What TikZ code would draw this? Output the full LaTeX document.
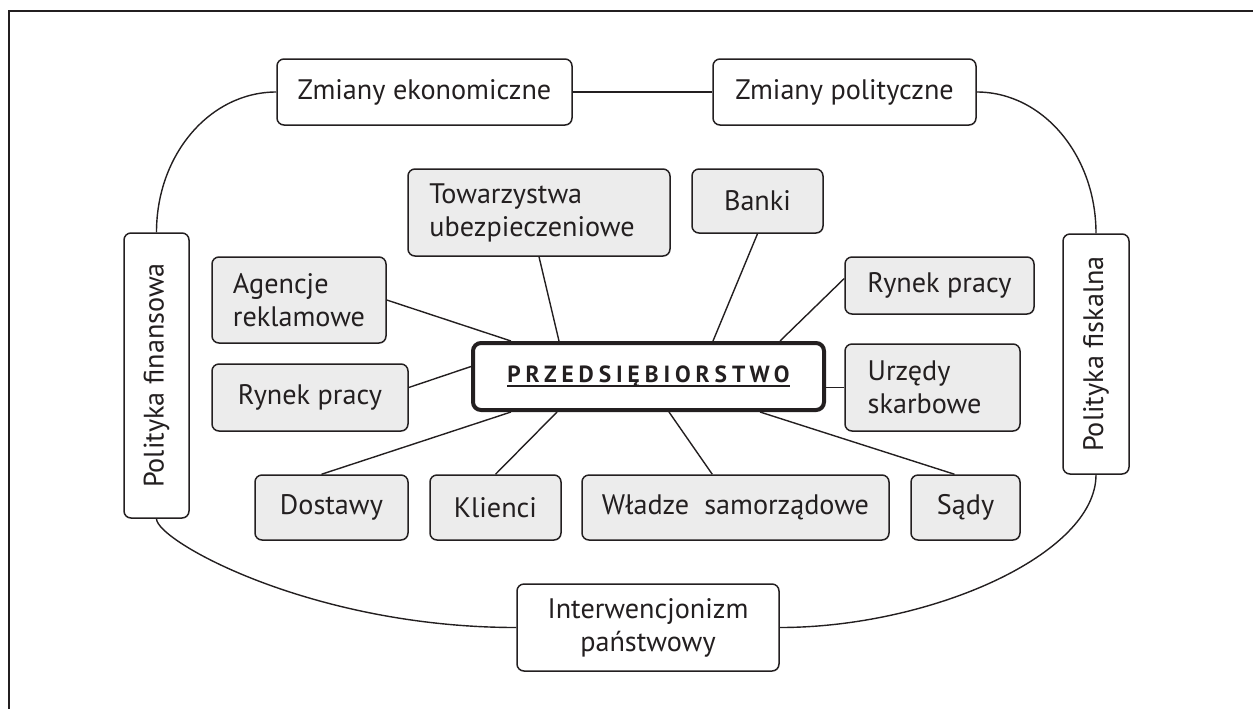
\documentclass[tikz,border=0pt]{standalone}
\usepackage{fontspec}
\setmainfont{PT Sans}
\newfontfamily\spacedfont[LetterSpace=21]{PT Sans}
\newcommand{\thickul}[1]{\setbox0\hbox{#1}\leavevmode\rlap{\rule[-2.6pt]{\wd0}{1.4pt}}\box0}
\usetikzlibrary{calc}
\definecolor{boxgrey}{RGB}{236,236,236}
\definecolor{ink}{RGB}{35,31,32}
\begin{document}
\begin{tikzpicture}[x=0.5pt,y=-0.5pt,
  box/.style={draw=ink, text=ink, line width=0.75pt, rounded corners=3.5pt, inner sep=0pt,
    font=\fontsize{14.1}{16.5}\selectfont, align=center, fill=white},
  grey/.style={box, fill=boxgrey, align=left},
  dims/.style 2 args={minimum width=#1*0.5pt, minimum height=#2*0.5pt},
  link/.style={draw=ink, line width=0.7pt},
  main/.style={box, line width=2pt, rounded corners=4pt}
]
\useasboundingbox (0,0) rectangle (1253,708);
\draw[ink, line width=0.6pt] (9,11) rectangle (1290,760);

% outer ring
\node[box, dims={295}{66}] (zek) at (424.5,92) {Zmiany ekonomiczne};
\node[box, dims={263}{66}] (zpol) at (844.5,92) {Zmiany polityczne};
\node[box, dims={65}{285}] (polfin) at (156.5,375.5) {\rotatebox{90}{Polityka finansowa}};
\node[box, dims={66}{240}] (polfis) at (1096,354) {\rotatebox{90}{Polityka fiskalna}};
\node[box, dims={262}{87}] (interw) at (648,627.5) {Interwencjonizm\\państwowy};

% centre
\node[main, dims={351}{67}] (przed) at (648.5,376.5)
  {\fontsize{11.7}{13}\bfseries\spacedfont\thickul{PRZEDSIĘBIORSTWO}};

% grey nodes
\node[grey, dims={262}{87}] (tow) at (539,212.5) {Towarzystwa\\ubezpieczeniowe\hspace*{7pt}};
\node[grey, dims={131}{64}] (banki) at (757.5,201) {Banki};
\node[grey, dims={174}{86}] (agen) at (299,300) {Agencje\\reklamowe};
\node[grey, dims={189}{57}] (rpR) at (939.5,285.5) {Rynek pracy};
\node[grey, dims={175}{87}] (urz) at (932.5,387.5) {Urzędy\\skarbowe\hspace*{8pt}};
\node[grey, dims={196}{67}] (rpL) at (310,397.5) {Rynek pracy};
\node[grey, dims={153}{65}] (dost) at (331.5,507.5) {Dostawy};
\node[grey, dims={131}{65}] (klie) at (495.5,507.5) {Klienci};
\node[grey, dims={307}{65}] (wladze) at (735.5,507.5) {Władze\ \ samorządowe};
\node[grey, dims={109}{65}] (sady) at (965.5,507.5) {Sądy};

% ring connectors
\draw[link] (zek.east) -- (zpol.west);
\draw[link] (zek.west) .. controls +(-66,0) and +(0,-78) .. (polfin.north);
\draw[link] (zpol.east) .. controls +(66,0) and +(0,-78) .. (polfis.north);
\draw[link] (polfin.south) .. controls +(0,22) and +(-205,0) .. (interw.west);
\draw[link] (polfis.south) .. controls +(0,80) and +(150,0) .. (interw.east);

% spokes
\draw[link] (agen.east) -- ($(przed.north west)+(40,0)$);
\draw[link] (tow.south) -- ($(przed.north west)+(88,0)$);
\draw[link] (banki.south) -- ($(przed.north west)+(242,0)$);
\draw[link] ($(rpR.west)+(0,-7)$) -- ($(przed.north west)+(309,0)$);
\draw[link] (urz.west) -- (przed.east |- urz.west);
\draw[link] ($(rpL.east)+(0,-10)$) -- ($(przed.west)+(0,-10)$);
\draw[link] ($(dost.north)+(-10,0)$) -- ($(przed.south west)+(40,0)$);
\draw[link] (klie.north) -- ($(przed.south west)+(86,0)$);
\draw[link] ($(wladze.north west)+(131,0)$) -- ($(przed.south west)+(198,0)$);
\draw[link] ($(sady.north)+(-11,0)$) -- ($(przed.south west)+(289,0)$);
\end{tikzpicture}
\end{document}
